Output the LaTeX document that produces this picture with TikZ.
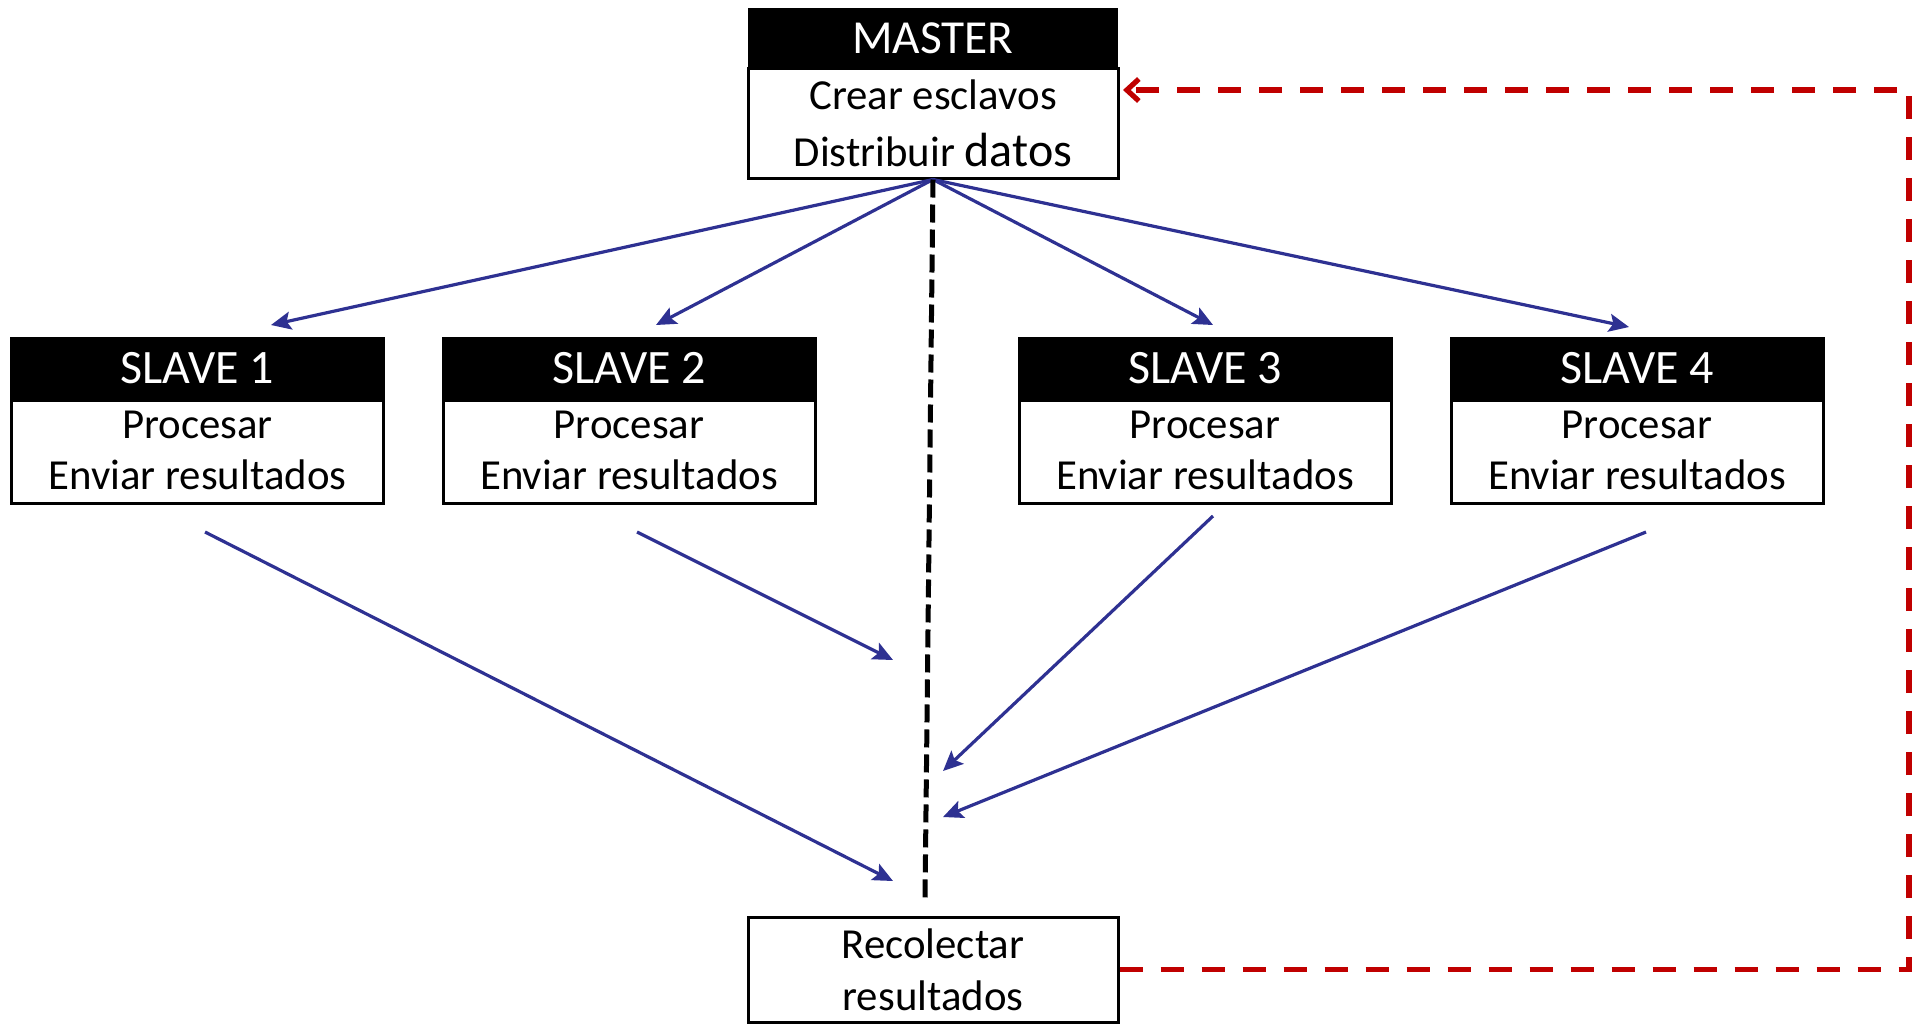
\documentclass[tikz,border=0pt]{standalone}
\usepackage{fontspec}
\setmainfont{Carlito}
\usetikzlibrary{arrows.meta}
\definecolor{flowblue}{HTML}{2E3192}
\definecolor{loopred}{HTML}{C00000}
\tikzset{
  hdr/.style={fill=black, text=white, inner sep=0pt, font=\fontsize{24}{28}\selectfont},
  body/.style={draw=black, fill=white, line width=1.5pt, inner sep=0pt},
  txt/.style={inner sep=0pt, font=\fontsize{21.4}{25}\selectfont},
  flow/.style={draw=flowblue, line width=1.6pt, -{Stealth[length=10pt,width=9pt,inset=2pt]}},
  sync/.style={draw=black, line width=2.5pt, dash pattern=on 9pt off 3.5pt},
  loop/.style={draw=loopred, line width=2.6pt, dash pattern=on 11.5pt off 9pt,
    -{Straight Barb[length=6pt,width=11pt,line width=2.6pt]}}
}
\begin{document}
\begin{tikzpicture}[x=0.5pt,y=-0.5pt]
\useasboundingbox (0,0) rectangle (1916,1024);

% master process
\node[body, minimum width=185pt, minimum height=55pt] (mb) at (933,123) {};
\node[hdr, minimum width=185pt, minimum height=30pt, font=\fontsize{23.7}{28}\selectfont] (mh) at (933,38) {MASTER};
\node[txt] (mt1) at (933,95) {Crear esclavos};
\node[txt] (mt2) at (933,150) {Distribuir {\fontsize{24}{28}\selectfont datos}};

% slave processes
\foreach \i/\cx in {1/197.5, 2/629, 3/1205, 4/1637} {
  \node[body, minimum width=186pt, minimum height=51.5pt] (s\i b) at (\cx,451.5) {};
  \node[hdr, minimum width=187.5pt, minimum height=31.5pt] (s\i h) at (\cx,368.5) {SLAVE \i};
  \node[txt] (s\i t1) at (\cx,425) {Procesar};
  \node[txt] (s\i t2) at (\cx,475) {Enviar resultados};
}

% gather step
\node[body, minimum width=185pt, minimum height=52.5pt] (rec) at (933,969.5) {};
\node[txt] (rt1) at (933,944) {Recolectar};
\node[txt] (rt2) at (933,996) {resultados};

% free ends of the connectors
\coordinate (d1) at (271,325);
\coordinate (d2) at (656,325);
\coordinate (d3) at (1213,325);
\coordinate (d4) at (1629,327);
\coordinate (u1) at (205,532);
\coordinate (u2) at (637,532);
\coordinate (u3) at (1213,516);
\coordinate (u4) at (1646,532);
\coordinate (g1) at (893,881);
\coordinate (g2) at (893,660);
\coordinate (g3) at (943,771);
\coordinate (g4) at (943,817);
\coordinate (barrier) at (925,900);
\coordinate (ret) at (1123,90);
\coordinate (corner) at (1909,90);

% distribution
\foreach \i in {1,...,4} \draw[flow] (mb.south) -- (d\i);

% synchronisation line
\draw[sync] (mb.south) -- (barrier);

% results
\foreach \i in {1,...,4} \draw[flow] (u\i) -- (g\i);

% loop back to the master
\draw[loop] (rec.east) -- (rec.east -| corner) -- (corner) -- (ret);
\end{tikzpicture}
\end{document}
